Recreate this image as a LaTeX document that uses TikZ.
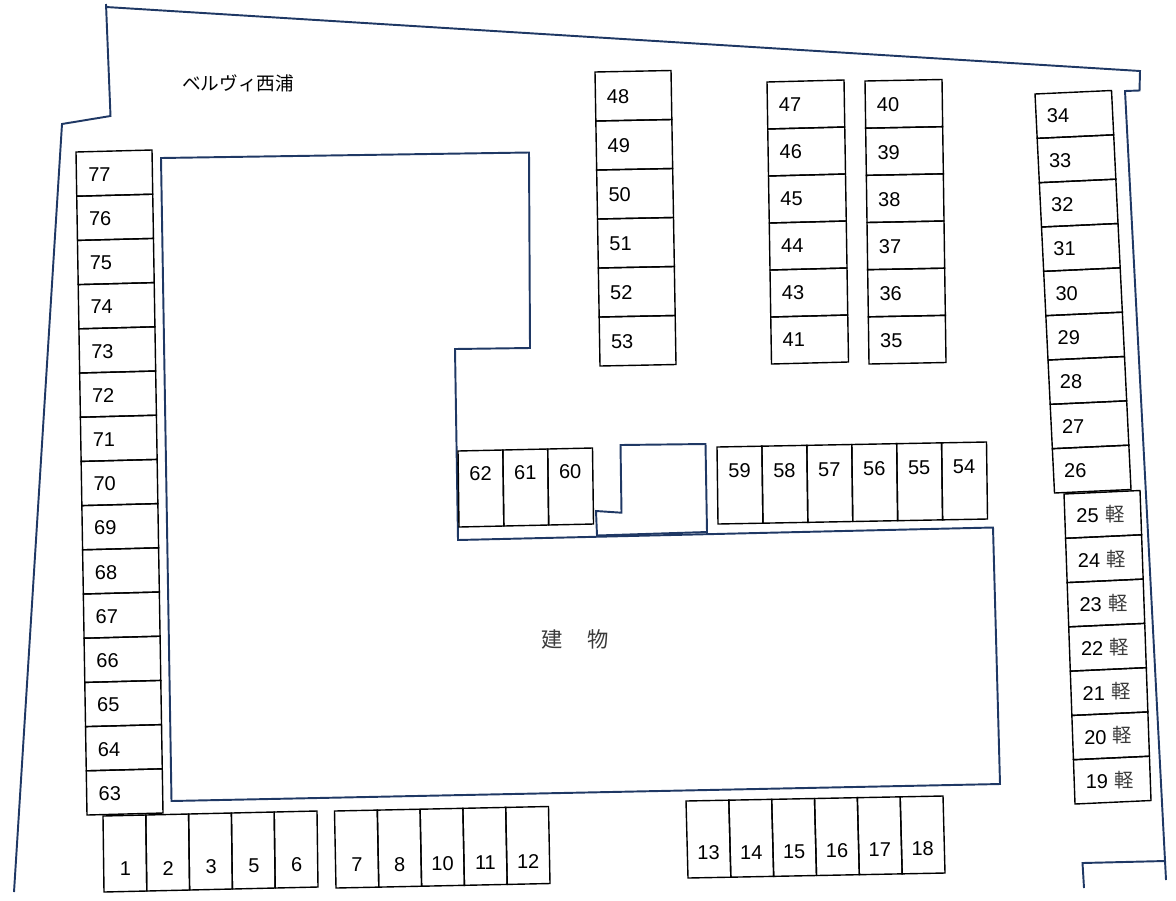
\documentclass[tikz,border=0pt]{standalone}
\usepackage{fontspec}
\setmainfont{Liberation Sans}
\newfontfamily\cjk{Noto Sans CJK JP}
\definecolor{wallblue}{HTML}{1F3864}
\definecolor{thinink}{HTML}{3A3A3A}
\tikzset{
  wall/.style={draw=wallblue,line width=1.45pt,line join=miter},
  bay/.style={draw=black,line width=1.05pt,line join=miter},
  num/.style={inner sep=0pt,font=\fontsize{15}{15}\selectfont,text=black},
  kei/.style={inner sep=0pt,font=\cjk\fontsize{14.5}{15}\selectfont,text=thinink},
  title/.style={inner sep=0pt,font=\cjk\fontsize{14}{14}\selectfont,text=black}
}
% #1,#2 first corner; #3,#4 whole strip vector; #5,#6 width vector; #7,#8 label offset; #9 number of bays
\newcommand{\baystrip}[9]{%
  \def\bx{#1}\def\by{#2}\def\ux{(#3)/#9}\def\uy{(#4)/#9}\def\vx{#5}\def\vy{#6}\def\lx{#7}\def\ly{#8}\baystripb}
\newcommand{\baystripb}[1]{%
  \foreach \t [count=\i from 0] in {#1}{%
    \draw[bay] ({\bx+\i*\ux},{\by+\i*\uy}) -- ({\bx+(\i+1)*\ux},{\by+(\i+1)*\uy})
      -- ({\bx+(\i+1)*\ux+\vx},{\by+(\i+1)*\uy+\vy}) -- ({\bx+\i*\ux+\vx},{\by+\i*\uy+\vy}) -- cycle;
    \node[num] (n\t) at ({\bx+\i*\ux+\lx},{\by+\i*\uy+\ly}) {\t};
  }}
\begin{document}
\begin{tikzpicture}[x=0.75pt,y=-0.75pt]
\useasboundingbox (0,0) rectangle (1176,900);
% site boundary
\draw[wall] (14,892) -- (62,124) -- (110.5,116) -- (106,4);
\draw[wall] (106,7) -- (1140,71) -- (1139.5,90.5) -- (1125,91) -- (1166,880);
\draw[wall] (1084,888) -- (1082.5,863) -- (1165,861);
% building
\draw[wall] (161,158) -- (529,152.5) -- (530,348) -- (455,349) -- (458,540) -- (993,527.5) -- (1000,784) -- (171.5,801) -- cycle;
\draw[wall] (597,535.5) -- (596,511) -- (621.5,512.7) -- (620.5,445) -- (705.5,444) -- (707,532) -- cycle;
% bays
\baystrip{76}{152}{11}{663}{76}{-2}{23.5}{22.5}{15}{77,76,75,74,73,72,71,70,69,68,67,66,65,64,63}
\baystrip{103}{816}{214}{-5}{1}{76}{22.5}{53}{5}{1,2,3,5,6}
\baystrip{334.5}{811}{214}{-4.5}{1.5}{77}{22.5}{54}{5}{7,8,10,11,12}
\baystrip{686}{801}{257}{-5}{2}{77}{22.5}{52}{6}{13,14,15,16,17,18}
\baystrip{1035}{94}{19.5}{399}{76.5}{-3.5}{23}{22}{9}{34,33,32,31,30,29,28,27,26}
\baystrip{1064}{494}{11}{310}{76}{-3.5}{23.5}{22}{7}{25,24,23,22,21,20,19}
\baystrip{865}{81}{4}{283}{77}{-1.5}{23}{24}{6}{40,39,38,37,36,35}
\baystrip{767}{82}{4.5}{282}{77}{-2}{23}{23}{6}{47,46,45,44,43,41}
\baystrip{595}{72}{5}{294}{76}{-1.5}{23}{25}{6}{48,49,50,51,52,53}
\baystrip{458}{451}{134.5}{-3}{1}{76}{22.5}{23}{3}{62,61,60}
\baystrip{717}{447}{269.5}{-5}{1}{77}{22.5}{24}{6}{59,58,57,56,55,54}
% light-vehicle marks
\foreach \t [count=\i from 0] in {25,24,23,22,21,20,19}{
  \node[kei] (k\t) at ({1115+\i*9/6},{514.5+\i*44.2}) {軽};
}
% titles
\node[title,anchor=center] (name) at (238,83) {ベルヴィ西浦};
\node[kei,font=\cjk\fontsize{16}{16}\selectfont] (ken) at (552,639) {建};
\node[kei,font=\cjk\fontsize{16}{16}\selectfont] (mono) at (598,639) {物};
\end{tikzpicture}
\end{document}
